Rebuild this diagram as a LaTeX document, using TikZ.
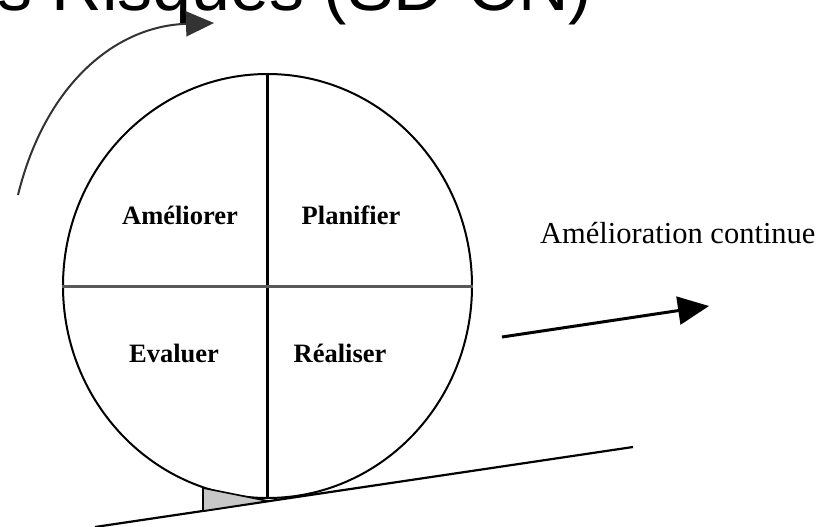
\documentclass[tikz,border=0pt]{standalone}
\usepackage{fontspec}
\setmainfont{Liberation Serif}
\newfontfamily\titlefont{Liberation Sans}
\usetikzlibrary{shapes.geometric,arrows.meta}
\tikzset{
  quadlabel/.style={font=\fontsize{26.5}{30}\selectfont\bfseries, inner sep=0pt},
  bigarrow/.style={line width=3pt, -{Triangle[length=31pt,width=28pt]}},
  turnarrow/.style={line width=2pt, black!80, -{Triangle[length=28pt,width=25pt]}},
}
\begin{document}
\begin{tikzpicture}[x=1pt,y=-1pt]
\useasboundingbox (0,0) rectangle (817,527);
\clip (0,0) rectangle (817,527);
\fill[white] (0,0) rectangle (817,527);
% cropped title
\node[anchor=base west, inner sep=0pt, font=\titlefont\fontsize{70}{80}\selectfont] (title) at (-3,11) {s Risques (SD-CN)};
% wheel
\node[ellipse, draw, line width=2pt, minimum width=409pt, minimum height=424pt, inner sep=0pt] (wheel) at (267.5,286) {};
\draw[line width=2.4pt] (wheel.north) -- (wheel.south);
\draw[line width=3pt, black!65] (wheel.west) -- (wheel.east);
% ground
\coordinate (g1) at (95,527);
\coordinate (g2) at (633,447);
\draw[line width=2.2pt] (g1) -- (g2);
% chock
\coordinate (w1) at (203,488);
\coordinate (w2) at (203,511);
\coordinate (w3) at (268,501);
\draw[line width=1.6pt, fill=black!22] (w1) -- (w2) -- (w3) -- cycle;
% labels
\node[quadlabel] (ame) at (180,215) {Améliorer};
\node[quadlabel] (pla) at (351,215) {Planifier};
\node[quadlabel] (eva) at (174,353) {Evaluer};
\node[quadlabel] (rea) at (340,353) {Réaliser};
\node[anchor=base west, inner sep=0pt, font=\fontsize{30.5}{34}\selectfont] (cont) at (540,243) {Amélioration continue};
% arrows
\coordinate (a1) at (502,337);
\coordinate (a2) at (709,306);
\draw[bigarrow] (a1) -- (a2);
\coordinate (t1) at (18,195);
\coordinate (t2) at (214,23);
\draw[turnarrow] (t1) .. controls (45,85) and (115,26) .. (t2);
\end{tikzpicture}
\end{document}
